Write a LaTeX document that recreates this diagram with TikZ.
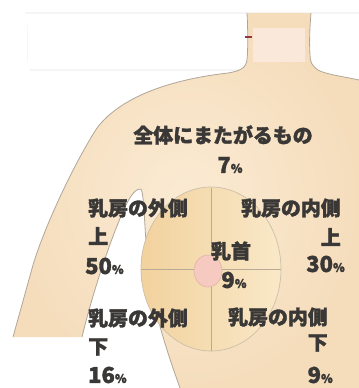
\documentclass[tikz,border=0pt]{standalone}
\usepackage{fontspec}
\setmainfont{Noto Sans CJK JP}[BoldFeatures={FakeBold=1.6}]
\definecolor{txt}{RGB}{58,56,54}
\definecolor{bodyin}{RGB}{251,235,212}
\definecolor{bodyout}{RGB}{245,221,188}
\definecolor{edge}{RGB}{176,166,152}
\definecolor{breastL}{RGB}{242,210,158}
\definecolor{breastR}{RGB}{249,232,200}
\definecolor{breastedge}{RGB}{205,190,168}
\definecolor{divider}{RGB}{185,170,150}
\definecolor{nipfill}{RGB}{246,202,192}
\definecolor{nipedge}{RGB}{225,178,166}
\definecolor{neckpatch}{RGB}{250,232,218}
\definecolor{tick}{RGB}{150,52,72}
\newcommand{\pc}{{\fontsize{12}{12}\selectfont\%}}
\tikzset{
  jp/.style={font=\fontsize{20}{20}\selectfont\bfseries, text=txt, inner sep=0pt},
  num/.style={font=\fontsize{22}{22}\selectfont\bfseries, text=txt, inner sep=0pt},
  outline/.style={draw=edge, line width=0.8pt},
}
\begin{document}
\begin{tikzpicture}[x=1bp, y=-1bp]
\useasboundingbox (0,0) rectangle (359,388);
\fill[white] (0,0) rectangle (359,388);

% faint guide band behind the neck
\draw[black!4, line width=1.5pt] (25,13) -- (359,13);
\draw[black!4, line width=1.5pt] (30,70) -- (245,70);
\draw[black!3, line width=1pt] (27,25) -- (27,62);

% body silhouette
\shade[inner color=bodyin, outer color=bodyout]
  (247,13) .. controls (248,30) and (248,50) .. (247,60)
  .. controls (246,68) and (240,71) .. (228,73)
  .. controls (175,79) and (122,95) .. (97,128)
  .. controls (75,162) and (45,225) .. (33,265)
  -- (13,337) -- (82,337)
  .. controls (92,295) and (110,240) .. (125,207)
  .. controls (131,194) and (137,188) .. (141,189)
  .. controls (145,196) and (144,240) .. (150,280)
  .. controls (156,320) and (170,360) .. (180,388)
  -- (359,388) -- (359,80)
  .. controls (340,76) and (325,74) .. (318,70)
  .. controls (312,66) and (310,62) .. (310,55)
  .. controls (309,40) and (310,25) .. (311,13) -- cycle;

% outline of the silhouette
\draw[outline]
  (247,13) .. controls (248,30) and (248,50) .. (247,60)
  .. controls (246,68) and (240,71) .. (228,73)
  .. controls (175,79) and (122,95) .. (97,128)
  .. controls (75,162) and (45,225) .. (33,265)
  -- (13,337);
\draw[outline]
  (82,337)
  .. controls (92,295) and (110,240) .. (125,207)
  .. controls (131,194) and (137,188) .. (141,189)
  .. controls (145,196) and (144,240) .. (150,280)
  .. controls (156,320) and (170,360) .. (180,388);
\draw[outline]
  (359,80)
  .. controls (340,76) and (325,74) .. (318,70)
  .. controls (312,66) and (310,62) .. (310,55)
  .. controls (309,40) and (310,25) .. (311,13);

% neck patch and tick
\fill[neckpatch] (253,28) rectangle (305,62);
\draw[tick, line width=1.4pt] (245,37) -- (252,37);

% breast with quadrant dividers
\shade[left color=breastL, right color=breastR, draw=breastedge, line width=0.7pt]
  (211,269) ellipse [x radius=70, y radius=82];
\coordinate (qt) at (211,188);
\coordinate (qb) at (211,351);
\coordinate (ql) at (141,269);
\coordinate (qr) at (281,269);
\draw[divider, line width=0.7pt] (qt) -- (qb);
\draw[divider, line width=0.7pt] (ql) -- (qr);
\filldraw[fill=nipfill, draw=nipedge, line width=0.6pt]
  (208,271) ellipse [x radius=14, y radius=16];

% labels
\node[jp] (all) at (223,135) {全体にまたがるもの};
\node[num] (allp) at (230,165) {7\pc};

\node[jp, anchor=west] (ulA) at (88,208) {乳房の外側};
\node[jp, anchor=west] (ulB) at (88,236) {上};
\node[num, anchor=west] (ulC) at (85,266) {50\pc};

\node[jp, anchor=east] (urA) at (341,208) {乳房の内側};
\node[jp, anchor=east] (urB) at (341,237) {上};
\node[num, anchor=east] (urC) at (345,264) {30\pc};

\node[jp] (nA) at (231,251) {乳首};
\node[num] (nB) at (234,280) {9\pc};

\node[jp, anchor=west] (llA) at (88,318) {乳房の外側};
\node[jp, anchor=west] (llB) at (88,347) {下};
\node[num, anchor=west] (llC) at (88,375) {16\pc};

\node[jp, anchor=east] (lrA) at (328,317) {乳房の内側};
\node[jp, anchor=east] (lrB) at (328,343) {下};
\node[num, anchor=east] (lrC) at (333,375) {9\pc};
\end{tikzpicture}
\end{document}
